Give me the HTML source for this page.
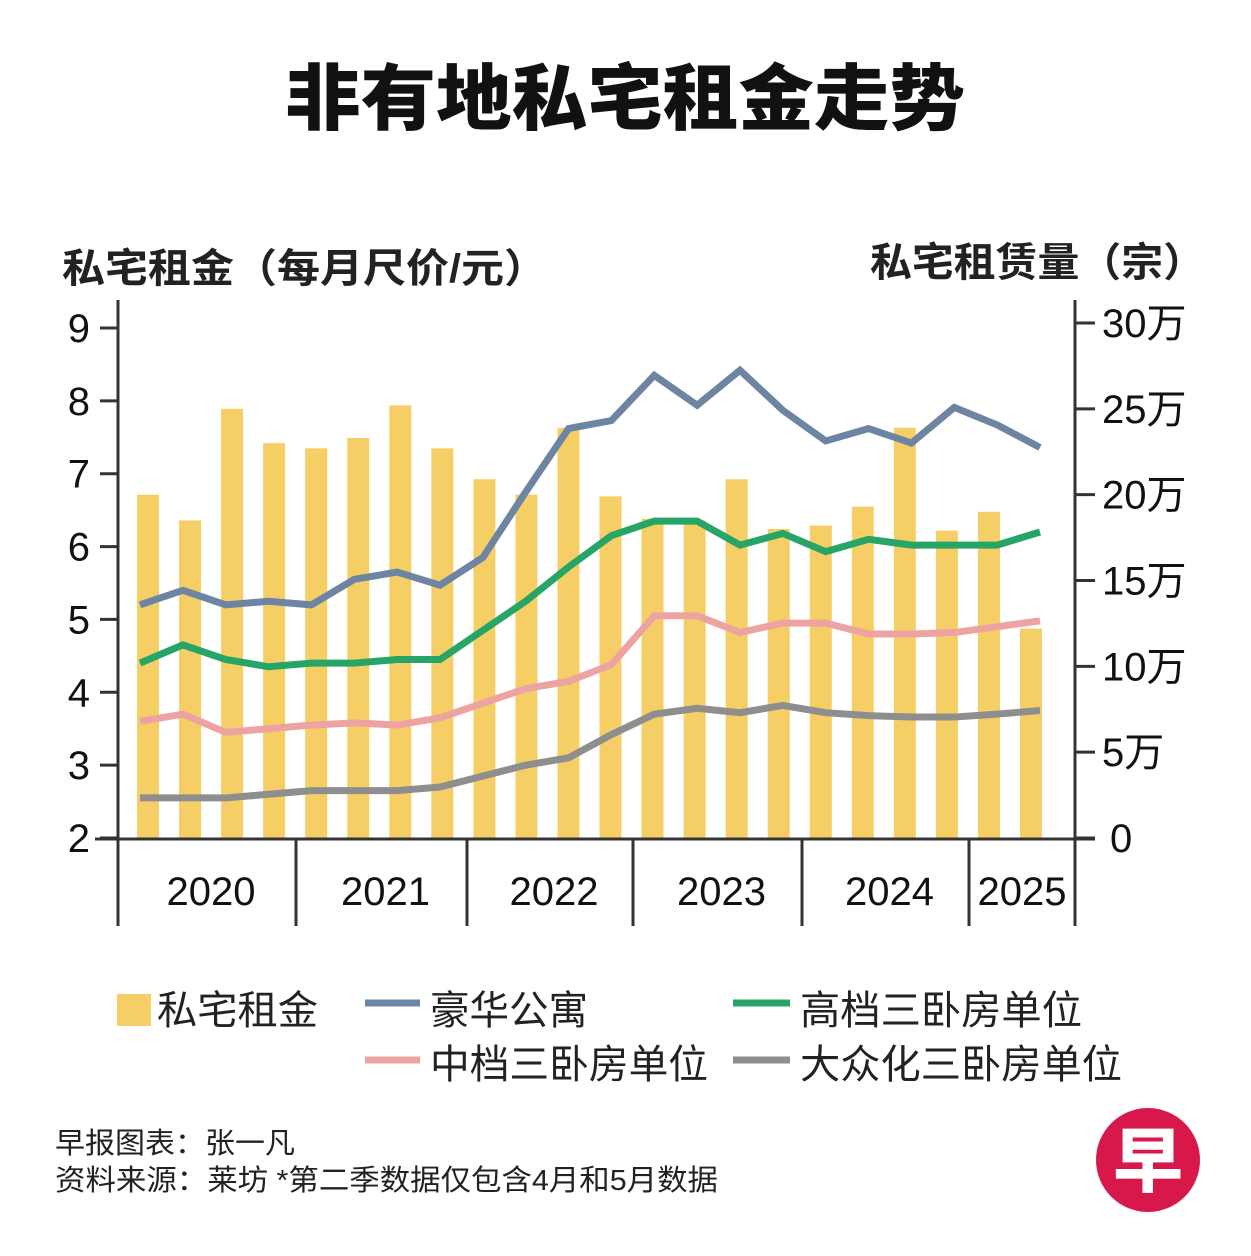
<!DOCTYPE html>
<html><head><meta charset="utf-8"><style>
body{margin:0;background:#fff;width:1251px;height:1251px;overflow:hidden}
svg text{font-family:"Liberation Sans","Noto Sans CJK SC",sans-serif}
</style></head><body>
<svg id="c" width="1251" height="1251" viewBox="0 0 1251 1251">
<text x="285" y="124" textLength="680" lengthAdjust="spacingAndGlyphs" font-size="72" font-weight="900" fill="#111">非有地私宅租金走势</text>
<text x="62" y="282" textLength="485" lengthAdjust="spacingAndGlyphs" font-size="40" font-weight="700" fill="#222">私宅租金（每月尺价/元）</text>
<text x="870" y="276" textLength="335" lengthAdjust="spacingAndGlyphs" font-size="40" font-weight="700" fill="#222">私宅租赁量（宗）</text>
<g id="bars"></g><g id="lines"></g><g id="axes"></g>
<g font-size="40" fill="#222">
<rect x="117" y="994" width="34" height="32" fill="#f5cf66"/>
<text x="157" y="1024" textLength="161" lengthAdjust="spacingAndGlyphs">私宅租金</text>
<line x1="365" y1="1003" x2="420" y2="1003" stroke="#6e84a3" stroke-width="7"/>
<text x="430" y="1024" textLength="158" lengthAdjust="spacingAndGlyphs">豪华公寓</text>
<line x1="733" y1="1003" x2="790" y2="1003" stroke="#27a567" stroke-width="7"/>
<text x="800" y="1024" textLength="282" lengthAdjust="spacingAndGlyphs">高档三卧房单位</text>
<line x1="365" y1="1060" x2="420" y2="1060" stroke="#eea3a3" stroke-width="7"/>
<text x="430" y="1078" textLength="278" lengthAdjust="spacingAndGlyphs">中档三卧房单位</text>
<line x1="733" y1="1060" x2="790" y2="1060" stroke="#8e8e8e" stroke-width="7"/>
<text x="800" y="1078" textLength="322" lengthAdjust="spacingAndGlyphs">大众化三卧房单位</text>
</g>
<text x="55" y="1153" textLength="240" lengthAdjust="spacingAndGlyphs" font-size="29" fill="#222">早报图表：张一凡</text>
<text x="55" y="1190" textLength="663" lengthAdjust="spacingAndGlyphs" font-size="29" fill="#222">资料来源：莱坊 *第二季数据仅包含4月和5月数据</text>
<g>
<circle cx="1148" cy="1160" r="52" fill="#d8174a"/>
<text x="1148" y="1186" text-anchor="middle" font-size="70" font-weight="900" fill="#fff">早</text>
</g>
</svg>
<script>
const volume=[20.0,18.5,25.0,23.0,22.7,23.3,25.2,22.7,20.9,20.0,23.9,19.9,18.6,18.5,20.9,18.0,18.2,19.3,23.9,17.9,19.0,12.2];
const luxury=[5.2,5.4,5.2,5.25,5.2,5.55,5.65,5.47,5.85,6.75,7.62,7.73,8.35,7.94,8.42,7.87,7.45,7.62,7.42,7.91,7.67,7.36];
const high=[4.4,4.65,4.45,4.35,4.4,4.4,4.45,4.45,4.85,5.25,5.72,6.15,6.35,6.35,6.02,6.18,5.93,6.1,6.02,6.02,6.02,6.2];
const mid=[3.6,3.7,3.45,3.5,3.55,3.58,3.55,3.65,3.85,4.05,4.15,4.38,5.05,5.05,4.82,4.95,4.95,4.8,4.8,4.82,4.9,4.98];
const mass=[2.55,2.55,2.55,2.6,2.65,2.65,2.65,2.7,2.85,3.0,3.1,3.42,3.7,3.78,3.72,3.82,3.72,3.68,3.66,3.66,3.7,3.75];
const leftTicks=[2,3,4,5,6,7,8,9];
const rightTicks=[0,5,10,15,20,25,30];
const years=["2020","2021","2022","2023","2024","2025"];
const yearBounds=[118,296,467,633,802,969,1075];
const NS="http://www.w3.org/2000/svg";
const yL=v=>838-(v-2)*(838-328)/7;
const yR=v=>838-v*(838-323)/30;
const xBar=i=>148+i*(1031-148)/21;
const xLine=i=>140+i*(1040-140)/21;
function mk(tag,attrs,parent){const e=document.createElementNS(NS,tag);for(const k in attrs)e.setAttribute(k,attrs[k]);parent.appendChild(e);return e;}
const bars=document.getElementById('bars'),lines=document.getElementById('lines'),axes=document.getElementById('axes');
volume.forEach((v,i)=>{const r=mk('rect',{x:xBar(i)-11,y:yR(v),width:22,height:838-yR(v),fill:'#f5cf66'},bars);

});
[[luxury,'#6e84a3','luxury-line'],[high,'#27a567','high-end-line'],[mid,'#eea3a3','mid-tier-line'],[mass,'#8e8e8e','mass-market-line']].forEach(([d,c,n])=>{
const p=mk('polyline',{points:d.map((v,i)=>xLine(i)+','+yL(v)).join(' '),fill:'none',stroke:c,'stroke-width':7,'stroke-linejoin':'miter'},lines);

});
mk('line',{x1:118,y1:300,x2:118,y2:926,stroke:'#333','stroke-width':3},axes);
mk('line',{x1:1075,y1:300,x2:1075,y2:926,stroke:'#333','stroke-width':3},axes);
mk('line',{x1:95,y1:839,x2:1095,y2:839,stroke:'#333','stroke-width':3},axes);
leftTicks.forEach(t=>{mk('line',{x1:100,y1:yL(t),x2:118,y2:yL(t),stroke:'#333','stroke-width':3},axes);
const tx=mk('text',{x:90,y:yL(t)+14,'text-anchor':'end','font-size':40,fill:'#111'},axes);tx.textContent=t;

});
rightTicks.forEach(t=>{mk('line',{x1:1075,y1:yR(t),x2:1095,y2:yR(t),stroke:'#333','stroke-width':3},axes);
const tx=mk('text',{x:t===0?1110:1102,y:yR(t)+14,'font-size':40,fill:'#111'},axes);tx.textContent=t===0?'0':t+'万';

});
yearBounds.forEach(x=>mk('line',{x1:x,y1:839,x2:x,y2:926,stroke:'#333','stroke-width':3},axes));
years.forEach((y,i)=>{const tx=mk('text',{x:(yearBounds[i]+yearBounds[i+1])/2+(i===5?0:4),y:905,'text-anchor':'middle','font-size':40,fill:'#111'},axes);tx.textContent=y;

});
</script>
</body></html>
